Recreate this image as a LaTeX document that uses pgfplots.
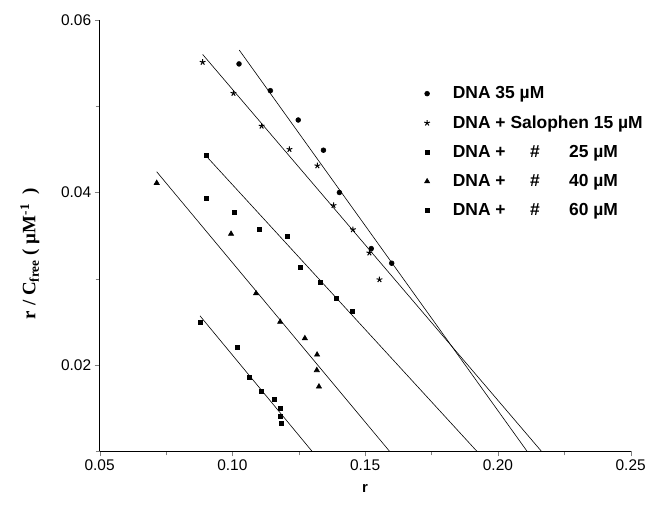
\documentclass[border=0pt]{standalone}
\usepackage{fontspec}
\setmainfont{Liberation Sans}
\newfontfamily\timesf{Liberation Serif}
\usepackage{pgfplots}
\pgfplotsset{compat=1.18}
\begin{document}
\begin{tikzpicture}
\begin{axis}[
  scale only axis,
  width=533pt, height=433pt,
  xmin=0.05, xmax=0.25, ymin=0.01, ymax=0.06,
  axis x line*=bottom, axis y line*=left,
  tick align=outside,
  major tick length=5pt, minor tick length=4pt,
  xtick={0.05,0.10,0.15,0.20,0.25},
  ytick={0.02,0.04,0.06},
  minor xtick={0.075,0.125,0.175,0.225},
  minor ytick={0.01,0.03,0.05},
  /pgf/number format/.cd, fixed, fixed zerofill, precision=2, assume math mode=true,
  /pgfplots/.cd,
  tick label style={font=\fontsize{15.5}{18}\selectfont},
  scaled ticks=false,
  xlabel={\textbf{r}},
  xlabel style={font=\fontsize{15}{18}\selectfont, at={(axis description cs:0.5,0)}, anchor=center, yshift=-37pt},
  ylabel={\timesf\bfseries r / C\textsubscript{free} ( µM\textsuperscript{-1}\hspace{0.5em})},
  ylabel style={font=\fontsize{19}{22}\selectfont, at={(axis description cs:0,0.5)}, anchor=center, yshift=70pt, xshift=-18pt},
  clip=false,
  legend cell align=left,
  legend style={draw=none, fill=none, at={(axis cs:0.1722,0.0525)}, anchor=north west,
    font=\fontsize{17.5}{20}\selectfont\bfseries, row sep=11.5pt, inner sep=0pt,
    /tikz/every odd column/.append style={column sep=21pt}},
  every axis plot/.append style={line width=0.6pt},
]
% data
\addplot[only marks, mark=*, mark size=2.4pt, black] coordinates {
(0.1025,0.0549)(0.1143,0.0518)(0.1248,0.0484)(0.1343,0.0449)(0.1403,0.0400)(0.1523,0.0335)(0.1600,0.0318)};
\addlegendentry{DNA 35 µM}
\addplot[only marks, mark=star, mark size=3pt, black, mark options={line width=1pt}] coordinates {
(0.0888,0.0551)(0.1004,0.0515)(0.1110,0.0477)(0.1215,0.0450)(0.1320,0.0431)(0.1381,0.0385)(0.1454,0.0357)(0.1516,0.0330)(0.1554,0.0299)};
\addlegendentry{DNA + Salophen 15 µM}
\addplot[only marks, mark=square*, mark size=2pt, black] coordinates {
(0.0900,0.0443)(0.0902,0.0393)(0.1007,0.0377)(0.1101,0.0357)(0.1207,0.0349)(0.1256,0.0313)(0.1330,0.0296)(0.1390,0.0277)(0.1451,0.0262)};
\addlegendentry{DNA +\hspace{24.5pt}\#\hspace{29.5pt}25 µM}
\addplot[only marks, mark=triangle*, mark size=3pt, black] coordinates {
(0.0715,0.0411)(0.0995,0.0352)(0.1089,0.0283)(0.1180,0.0250)(0.1273,0.0231)(0.1319,0.0212)(0.1318,0.0194)(0.1326,0.0175)};
\addlegendentry{DNA +\hspace{24.5pt}\#\hspace{29.5pt}40 µM}
\addplot[only marks, mark=square*, mark size=2pt, black] coordinates {
(0.0878,0.0249)(0.1018,0.0220)(0.1063,0.0186)(0.1109,0.0169)(0.1156,0.0160)(0.1179,0.0150)(0.1179,0.0141)(0.1183,0.0132)};
\addlegendentry{DNA +\hspace{24.5pt}\#\hspace{29.5pt}60 µM}
% fit lines
\addplot[black, forget plot] coordinates {(0.1026,0.0565)(0.2110,0.0100)};
\addplot[black, forget plot] coordinates {(0.0888,0.0560)(0.2164,0.0100)};
\addplot[black, forget plot] coordinates {(0.0902,0.0442)(0.1921,0.0100)};
\addplot[black, forget plot] coordinates {(0.0715,0.0424)(0.1592,0.0100)};
\addplot[black, forget plot] coordinates {(0.0878,0.0257)(0.1300,0.0100)};
\end{axis}
\path (current axis.south west) ++(-100pt,-54pt) coordinate (bbA);
\path (current axis.north east) ++(16pt,20pt) coordinate (bbB);
\useasboundingbox (bbA) rectangle (bbB);
\end{tikzpicture}
\end{document}
